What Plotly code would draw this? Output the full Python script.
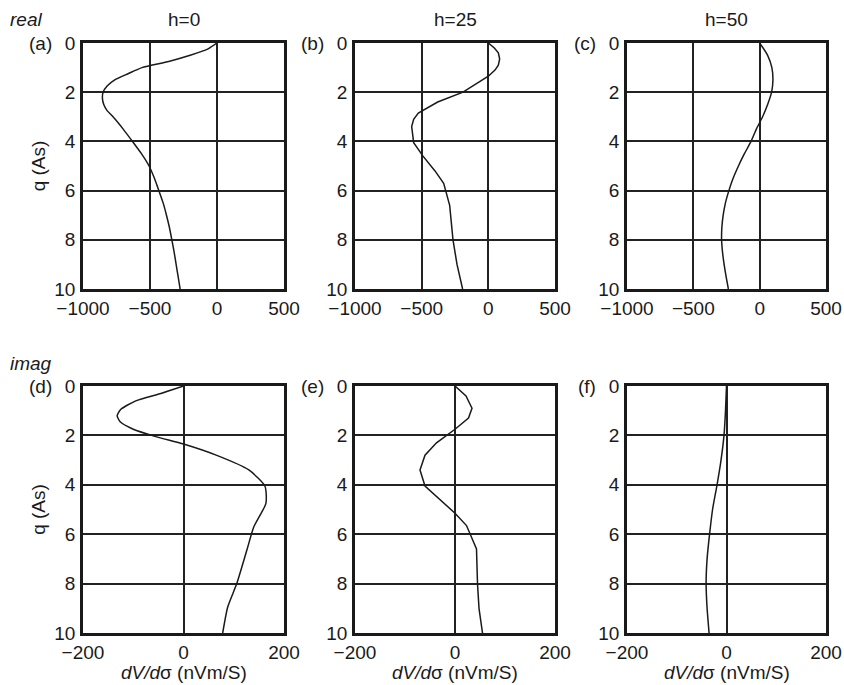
import plotly.graph_objects as go

W, H = 844, 685

# ---- data ----
q_a = [0, 0.25, 0.5, 0.75, 1.0, 1.25, 1.5, 1.75, 2.0, 2.25, 2.5, 2.75, 3.0, 3.5, 4.0, 4.5, 5.0, 5.5, 6.0, 6.5, 7.0, 7.5, 8.0, 8.5, 9.0, 9.5, 10]
v_a = [0, -70, -200, -360, -560, -664, -763, -820, -850, -855, -845, -820, -776, -700, -631, -564, -507, -467, -434, -402, -377, -355, -337, -320, -305, -290, -275]

q_b = [0, 0.2, 0.4, 0.65, 0.9, 1.1, 1.35, 1.6, 2.0, 2.4, 2.85, 3.1, 3.4, 4.05, 4.6, 5.2, 5.7, 6.6, 8.0, 9.0, 10]
v_b = [0, 45, 75, 85, 75, 50, 0, -70, -190, -380, -525, -560, -575, -560, -490, -400, -335, -290, -265, -235, -193]

q_c = [0, 0.5, 1.0, 1.5, 2.0, 2.5, 3.0, 3.5, 4.0, 4.5, 5.0, 5.5, 6.0, 6.5, 7.0, 7.5, 8.0, 8.5, 9.0, 9.5, 10]
v_c = [0, 60, 92, 100, 90, 60, 22, -25, -65, -115, -160, -200, -232, -258, -275, -285, -287, -280, -268, -253, -236]

q_d = [0, 0.3, 0.6, 0.95, 1.2, 1.45, 1.75, 2.05, 2.35, 2.8, 3.4, 4.05, 4.75, 5.7, 6.65, 8.0, 8.95, 10]
v_d = [0, -45, -95, -125, -132, -126, -100, -55, 0, 65, 130, 162, 164, 140, 126, 106, 88, 78]

q_e = [0, 0.4, 0.9, 1.3, 1.75, 2.3, 2.8, 3.4, 4.05, 4.6, 5.15, 5.65, 6.1, 6.6, 8.0, 9.0, 10]
v_e = [0, 22, 34, 27, 0, -37, -60, -70, -60, -30, 0, 23, 33, 43, 45, 48, 55]

q_f = [0, 1, 2, 3, 4, 5, 6, 7, 8, 9, 10]
v_f = [0, -2, -5, -11, -19, -28, -34, -39, -41, -39, -35]

col_titles = ["h=0", "h=25", "h=50"]
row_titles = ["real", "imag"]
panel_labels = ["(a)", "(b)", "(c)", "(d)", "(e)", "(f)"]
x_title = "<i>dV/d</i>σ (nVm/S)"
y_title = "q (As)"

series = [(q_a, v_a, "spline"), (q_b, v_b, "linear"), (q_c, v_c, "spline"),
          (q_d, v_d, "spline"), (q_e, v_e, "linear"), (q_f, v_f, "spline")]

# ---- layout geometry (pixels) ----
cols_px = [(83, 284), (355, 555), (627, 826)]
rows_px = [(43, 289), (386, 633)]

FONT = "Liberation Sans, Arial, sans-serif"
INK = "#1a1a1a"
FS = 19

fig = go.Figure()
layout = dict(
    width=W, height=H, margin=dict(l=0, r=0, t=0, b=0, autoexpand=False),
    paper_bgcolor="white", plot_bgcolor="white", showlegend=False,
    font=dict(family=FONT, size=FS, color=INK),
)
annotations = []

for i, (q, v, shape) in enumerate(series):
    r, c = divmod(i, 3)
    n = i + 1
    xa = "x" if n == 1 else f"x{n}"
    ya = "y" if n == 1 else f"y{n}"
    fig.add_trace(go.Scatter(x=v, y=q, mode="lines", xaxis=xa, yaxis=ya,
                             line=dict(color=INK, width=1.5, shape=shape, smoothing=0.6)))
    x0, x1 = cols_px[c]
    y0, y1 = rows_px[r]
    xr = [-1000, 500] if r == 0 else [-200, 200]
    xd = 500 if r == 0 else 200
    layout["xaxis" if n == 1 else f"xaxis{n}"] = dict(
        domain=[x0 / W, x1 / W], anchor=ya, range=xr, tick0=xr[0], dtick=xd,
        showline=True, mirror=True, linewidth=2.8, linecolor=INK,
        showgrid=True, gridcolor="#222222", gridwidth=1.5, zeroline=False,
        ticks="", ticklabelstandoff=0, tickfont=dict(size=FS, color=INK),
        automargin=False, fixedrange=True,
    )
    layout["yaxis" if n == 1 else f"yaxis{n}"] = dict(
        domain=[1 - y1 / H, 1 - y0 / H], anchor=xa, range=[10, 0], tick0=0, dtick=2,
        showline=True, mirror=True, linewidth=2.8, linecolor=INK,
        showgrid=True, gridcolor="#222222", gridwidth=1.5, zeroline=False,
        ticks="", ticklabelstandoff=1, tickfont=dict(size=FS, color=INK),
        title=dict(text=y_title if c == 0 else "", font=dict(size=FS), standoff=4),
        automargin=False, fixedrange=True,
    )
    # panel label
    annotations.append(dict(text=panel_labels[i], x=(x0 - 29) / W, y=1 - (y0 + 1) / H,
                            xref="paper", yref="paper", xanchor="right", yanchor="middle",
                            showarrow=False, font=dict(size=FS, color=INK)))
    if r == 1:
        annotations.append(dict(text=x_title, x=(x0 + x1) / 2 / W, y=1 - 672 / H,
                                xref="paper", yref="paper", xanchor="center", yanchor="middle",
                                showarrow=False, font=dict(size=FS, color=INK)))

for c, t in enumerate(col_titles):
    x0, x1 = cols_px[c]
    annotations.append(dict(text=t, x=(x0 + x1) / 2 / W, y=1 - 19 / H, xref="paper", yref="paper",
                            xanchor="center", yanchor="middle", showarrow=False,
                            font=dict(size=FS, color=INK)))
for r, t in enumerate(row_titles):
    ypx = [19, 363][r]
    annotations.append(dict(text=f"<i>{t}</i>", x=8 / W, y=1 - ypx / H, xref="paper", yref="paper",
                            xanchor="left", yanchor="middle", showarrow=False,
                            font=dict(size=FS, color=INK)))

layout["annotations"] = annotations
fig.update_layout(**layout)
fig.write_html("out.html")
